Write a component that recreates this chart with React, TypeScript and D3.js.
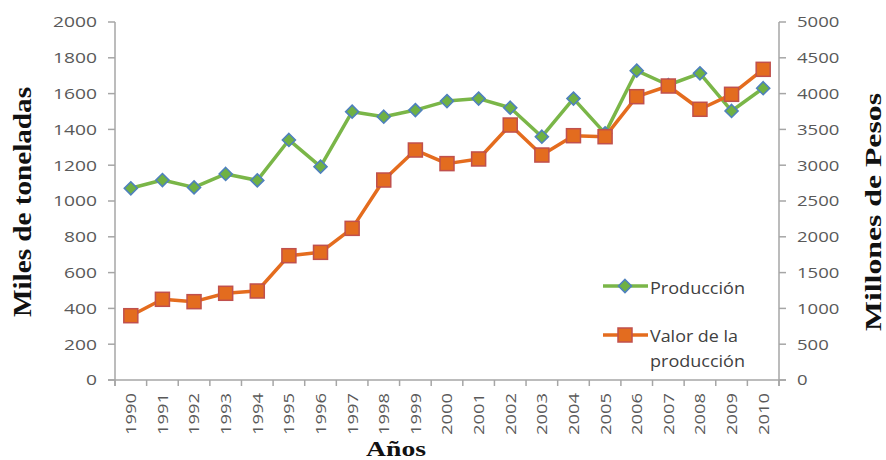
import React from "react";
import * as d3 from "d3";

const years = ["1990","1991","1992","1993","1994","1995","1996","1997","1998","1999","2000","2001","2002","2003","2004","2005","2006","2007","2008","2009","2010"];
const produccion = [1071,1117,1076,1151,1115,1341,1192,1499,1471,1508,1558,1572,1521,1359,1572,1378,1728,1648,1713,1503,1630];
const valor = [898,1127,1094,1211,1243,1736,1783,2118,2793,3212,3022,3087,3561,3142,3412,3398,3957,4106,3781,3990,4339];
const leftTicks = [0,200,400,600,800,1000,1200,1400,1600,1800,2000];
const rightTicks = [0,500,1000,1500,2000,2500,3000,3500,4000,4500,5000];

const W = 886, H = 460;
const X0 = 115, X1 = 779, Y0 = 380, Y1 = 22;
const AXIS = "#a6a6a6";
const LABEL = "#595959";
const SANS = "'Open Sans', 'Noto Sans', sans-serif";
const SERIF = "'Liberation Serif', 'DejaVu Serif', serif";

export default function App() {
  const x = d3.scaleBand<string>().domain(years).range([X0, X1]);
  const yL = d3.scaleLinear().domain([0, 2000]).range([Y0, Y1]);
  const yR = d3.scaleLinear().domain([0, 5000]).range([Y0, Y1]);
  const cx = (i: number) => (x(years[i]) as number) + x.bandwidth() / 2;

  const lineL = d3.line<number>().x((_, i) => cx(i)).y((d) => yL(d));
  const lineR = d3.line<number>().x((_, i) => cx(i)).y((d) => yR(d));
  const diamond = (px: number, py: number, r = 6.5) =>
    `M${px},${py - r}L${px + r},${py}L${px},${py + r}L${px - r},${py}Z`;
  const sq = 14;

  const bounds = years.map((y) => x(y) as number).concat([X1]);

  return (
    <svg width={W} height={H} style={{ position: "absolute", left: 0, top: 0, background: "#fff" }}>
      {/* axes */}
      <g stroke={AXIS} strokeWidth={1.5} fill="none">
        <line x1={X0} y1={Y1} x2={X0} y2={Y0 + 6} />
        <line x1={X1} y1={Y1} x2={X1} y2={Y0 + 6} />
        <line x1={X0 - 7} y1={Y0} x2={X1 + 7} y2={Y0} />
        {leftTicks.map((t) => (
          <line key={"lt" + t} x1={X0 - 7} x2={X0} y1={yL(t)} y2={yL(t)} />
        ))}
        {rightTicks.map((t) => (
          <line key={"rt" + t} x1={X1} x2={X1 + 7} y1={yR(t)} y2={yR(t)} />
        ))}
        {bounds.map((b, i) => (
          <line key={"xt" + i} x1={b} x2={b} y1={Y0} y2={Y0 + 6} />
        ))}
      </g>
      {/* tick labels */}
      <g fill={LABEL} fontFamily={SANS} fontSize={15}>
        {leftTicks.map((t) => {
          const s = String(t);
          return (
            <text key={"ll" + t} x={97} y={yL(t)} dy="0.36em" textAnchor="end" textLength={s.length * 11} lengthAdjust="spacingAndGlyphs">{s}</text>
          );
        })}
        {rightTicks.map((t) => {
          const s = String(t);
          return (
            <text key={"rl" + t} x={797} y={yR(t)} dy="0.36em" textAnchor="start" textLength={s.length * 10.6} lengthAdjust="spacingAndGlyphs">{s}</text>
          );
        })}
        {years.map((y, i) => (
          <text key={"xl" + y} transform={`translate(${cx(i)},${393}) rotate(-90)`} dy="0.36em" textAnchor="end" textLength={42} lengthAdjust="spacingAndGlyphs">{y}</text>
        ))}
      </g>
      {/* axis titles */}
      <g fill="#111" fontFamily={SERIF} fontWeight="bold" fontSize={25}>
        <text transform={`translate(31,202) rotate(-90)`} textAnchor="middle" textLength={230} lengthAdjust="spacingAndGlyphs">Miles de toneladas</text>
        <text transform={`translate(881,212) rotate(-90)`} textAnchor="middle" fontSize={23} textLength={238} lengthAdjust="spacingAndGlyphs">Millones de Pesos</text>
        <text x={396} y={456} textAnchor="middle" fontSize={22} textLength={60} lengthAdjust="spacingAndGlyphs">Años</text>
      </g>
      {/* series: produccion */}
      <path d={lineL(produccion) as string} fill="none" stroke="#7ab648" strokeWidth={3.5} strokeLinejoin="round" />
      {produccion.map((v, i) => (
        <path key={"d" + i} d={diamond(cx(i), yL(v))} fill="#6fb143" stroke="#4f81bd" strokeWidth={1.6} />
      ))}
      {/* series: valor */}
      <path d={lineR(valor) as string} fill="none" stroke="#e46c1e" strokeWidth={3.5} strokeLinejoin="round" />
      {valor.map((v, i) => (
        <rect key={"s" + i} x={cx(i) - sq / 2} y={yR(v) - sq / 2} width={sq} height={sq} fill="#e36c1f" stroke="#c0504d" strokeWidth={1.5} />
      ))}
      {/* legend */}
      <g>
        <line x1={603} x2={648} y1={286} y2={286} stroke="#7ab648" strokeWidth={3.5} />
        <path d={diamond(625, 286)} fill="#6fb143" stroke="#4f81bd" strokeWidth={1.6} />
        <line x1={603} x2={648} y1={335} y2={335} stroke="#e46c1e" strokeWidth={3.5} />
        <rect x={625 - sq / 2} y={335 - sq / 2} width={sq} height={sq} fill="#e36c1f" stroke="#c0504d" strokeWidth={1.5} />
        <g fill="#404040" fontFamily={SANS} fontSize={17}>
          <text x={650} y={294} textLength={95} lengthAdjust="spacingAndGlyphs">Producción</text>
          <text x={650} y={342} textLength={88} lengthAdjust="spacingAndGlyphs">Valor de la</text>
          <text x={650} y={367} textLength={95} lengthAdjust="spacingAndGlyphs">producción</text>
        </g>
      </g>
    </svg>
  );
}
